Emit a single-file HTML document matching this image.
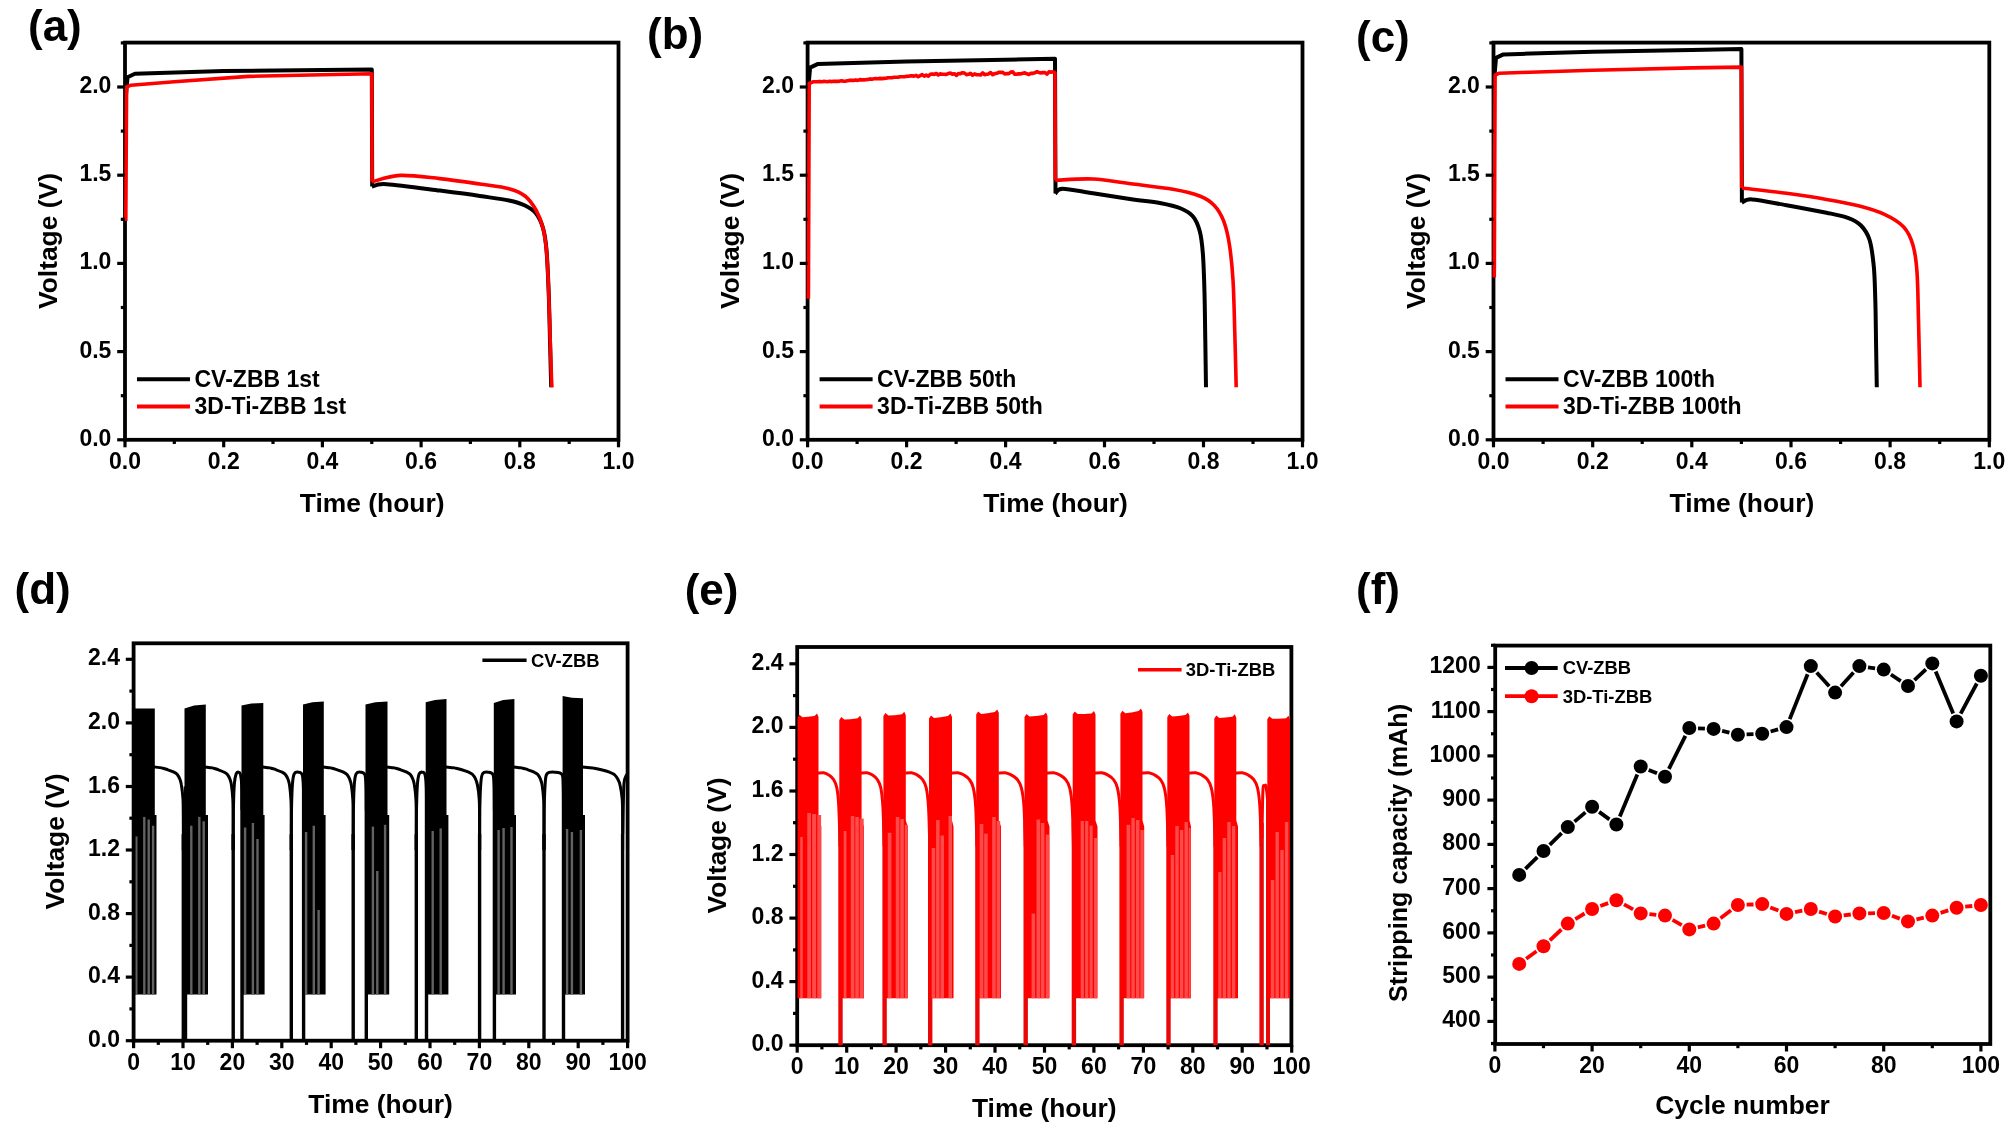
<!DOCTYPE html>
<html><head><meta charset="utf-8"><title>Figure</title>
<style>html,body{margin:0;padding:0;background:#fff;}svg{display:block;filter:blur(0.5px);}text{fill:#000;}</style>
</head><body>
<svg width="2013" height="1127" viewBox="0 0 2013 1127">
<rect width="2013" height="1127" fill="#fff"/>
<rect x="125" y="42.6" width="493.5" height="397.2" fill="none" stroke="#000" stroke-width="3.8"/>
<polyline points="126,94.9 127.5,77.3 134.9,73.8 223.7,71.1 322.4,69.9 371.8,69.4 372.2,186.6" fill="none" stroke="#000" stroke-width="4" stroke-linejoin="round" stroke-linecap="butt" />
<path d="M372,186.6 C374.4,186.2 375.3,183.5 386.6,184.2 C397.9,184.9 424.3,188.6 439.8,190.6 C455.3,192.6 468.3,194.3 479.8,196 C491.3,197.7 501.5,198.9 509,200.5 C516.5,202.1 520.5,203.4 525,205.5 C529.5,207.6 532.7,209.2 535.7,213 C538.7,216.8 541.2,221.8 543,228 C544.8,234.2 545.6,239.7 546.5,250 C547.4,260.3 548,275 548.6,290 C549.2,305 549.6,323.8 550,340 C550.4,356.2 551,379.3 551.2,387.2" fill="none" stroke="#000" stroke-width="4" stroke-linejoin="round"/>
<polyline points="125.8,221.1 126.6,87 130.9,85.2 174.3,81.7 248.4,76.4 322.4,74.7 371.8,73.8 372.1,181.8" fill="none" stroke="#f00" stroke-width="3.6" stroke-linejoin="round" stroke-linecap="butt" />
<path d="M372,181.8 C376.7,180.7 388.7,175.9 400,175.4 C411.3,174.9 426.5,177.2 439.8,178.6 C453.1,180 468.3,182.3 479.8,184 C491.3,185.7 501.5,186.7 509,188.7 C516.5,190.7 520.5,192.4 525,196 C529.5,199.6 533,204.7 536,210 C539,215.3 541.2,221 543,228 C544.8,235 545.7,241.7 546.6,252 C547.5,262.3 548,275.3 548.6,290 C549.2,304.7 549.7,323.8 550.2,340 C550.7,356.2 551.5,379.3 551.8,387.2" fill="none" stroke="#f00" stroke-width="3.6" stroke-linejoin="round"/>
<line x1="125" y1="439.8" x2="125" y2="447.3" stroke="#000" stroke-width="3.2"/>
<line x1="223.7" y1="439.8" x2="223.7" y2="447.3" stroke="#000" stroke-width="3.2"/>
<line x1="322.4" y1="439.8" x2="322.4" y2="447.3" stroke="#000" stroke-width="3.2"/>
<line x1="421.1" y1="439.8" x2="421.1" y2="447.3" stroke="#000" stroke-width="3.2"/>
<line x1="519.8" y1="439.8" x2="519.8" y2="447.3" stroke="#000" stroke-width="3.2"/>
<line x1="618.5" y1="439.8" x2="618.5" y2="447.3" stroke="#000" stroke-width="3.2"/>
<line x1="174.3" y1="439.8" x2="174.3" y2="444" stroke="#000" stroke-width="3.2"/>
<line x1="273" y1="439.8" x2="273" y2="444" stroke="#000" stroke-width="3.2"/>
<line x1="371.8" y1="439.8" x2="371.8" y2="444" stroke="#000" stroke-width="3.2"/>
<line x1="470.4" y1="439.8" x2="470.4" y2="444" stroke="#000" stroke-width="3.2"/>
<line x1="569.2" y1="439.8" x2="569.2" y2="444" stroke="#000" stroke-width="3.2"/>
<text x="125" y="469" font-size="23" text-anchor="middle" font-family="Liberation Sans, Arial, sans-serif" font-weight="bold">0.0</text>
<text x="223.7" y="469" font-size="23" text-anchor="middle" font-family="Liberation Sans, Arial, sans-serif" font-weight="bold">0.2</text>
<text x="322.4" y="469" font-size="23" text-anchor="middle" font-family="Liberation Sans, Arial, sans-serif" font-weight="bold">0.4</text>
<text x="421.1" y="469" font-size="23" text-anchor="middle" font-family="Liberation Sans, Arial, sans-serif" font-weight="bold">0.6</text>
<text x="519.8" y="469" font-size="23" text-anchor="middle" font-family="Liberation Sans, Arial, sans-serif" font-weight="bold">0.8</text>
<text x="618.5" y="469" font-size="23" text-anchor="middle" font-family="Liberation Sans, Arial, sans-serif" font-weight="bold">1.0</text>
<line x1="125" y1="439.8" x2="117.2" y2="439.8" stroke="#000" stroke-width="3.2"/>
<line x1="125" y1="351.6" x2="117.2" y2="351.6" stroke="#000" stroke-width="3.2"/>
<line x1="125" y1="263.4" x2="117.2" y2="263.4" stroke="#000" stroke-width="3.2"/>
<line x1="125" y1="175.2" x2="117.2" y2="175.2" stroke="#000" stroke-width="3.2"/>
<line x1="125" y1="87" x2="117.2" y2="87" stroke="#000" stroke-width="3.2"/>
<line x1="125" y1="395.7" x2="120.8" y2="395.7" stroke="#000" stroke-width="3.2"/>
<line x1="125" y1="307.5" x2="120.8" y2="307.5" stroke="#000" stroke-width="3.2"/>
<line x1="125" y1="219.3" x2="120.8" y2="219.3" stroke="#000" stroke-width="3.2"/>
<line x1="125" y1="131.1" x2="120.8" y2="131.1" stroke="#000" stroke-width="3.2"/>
<line x1="125" y1="42.9" x2="120.8" y2="42.9" stroke="#000" stroke-width="3.2"/>
<text x="111.4" y="445.8" font-size="23" text-anchor="end" font-family="Liberation Sans, Arial, sans-serif" font-weight="bold">0.0</text>
<text x="111.4" y="357.6" font-size="23" text-anchor="end" font-family="Liberation Sans, Arial, sans-serif" font-weight="bold">0.5</text>
<text x="111.4" y="269.4" font-size="23" text-anchor="end" font-family="Liberation Sans, Arial, sans-serif" font-weight="bold">1.0</text>
<text x="111.4" y="181.2" font-size="23" text-anchor="end" font-family="Liberation Sans, Arial, sans-serif" font-weight="bold">1.5</text>
<text x="111.4" y="93" font-size="23" text-anchor="end" font-family="Liberation Sans, Arial, sans-serif" font-weight="bold">2.0</text>
<text transform="translate(56.5,241) rotate(-90)" font-size="26.4" text-anchor="middle" font-family="Liberation Sans, Arial, sans-serif" font-weight="bold">Voltage (V)</text>
<text x="372.2" y="511.5" font-size="26.4" text-anchor="middle" font-family="Liberation Sans, Arial, sans-serif" font-weight="bold">Time (hour)</text>
<text x="28" y="40.5" font-size="44" font-family="Liberation Sans, Arial, sans-serif" font-weight="bold">(a)</text>
<line x1="137" y1="379.3" x2="190" y2="379.3" stroke="#000" stroke-width="4"/>
<line x1="137" y1="406.6" x2="190" y2="406.6" stroke="#f00" stroke-width="4"/>
<text x="194.5" y="386.8" font-size="23" font-family="Liberation Sans, Arial, sans-serif" font-weight="bold">CV-ZBB 1st</text>
<text x="194.5" y="414.2" font-size="23" font-family="Liberation Sans, Arial, sans-serif" font-weight="bold">3D-Ti-ZBB 1st</text>
<rect x="807.6" y="42.6" width="494.9" height="397.2" fill="none" stroke="#000" stroke-width="3.8"/>
<polyline points="808.6,85.2 810.1,67.6 817.5,64.1 906.6,61.4 1005.6,59.7 1055,58.8 1055.5,193.5" fill="none" stroke="#000" stroke-width="4" stroke-linejoin="round" stroke-linecap="butt" />
<path d="M1055.3,193.5 C1056.5,192.7 1056.3,188.7 1062.6,188.7 C1068.9,188.7 1081.3,191.5 1093,193.3 C1104.7,195.1 1121.9,197.8 1133,199.4 C1144.1,201 1151.8,201.5 1159.8,203 C1167.8,204.5 1175.5,206.2 1181,208.5 C1186.5,210.8 1189.9,212.8 1193,216.5 C1196.1,220.2 1198,224.8 1199.7,231 C1201.4,237.2 1202.1,243.7 1202.9,254 C1203.7,264.3 1204.1,278.7 1204.5,293 C1204.9,307.3 1205,324.3 1205.3,340 C1205.5,355.7 1205.9,379.3 1206,387.2" fill="none" stroke="#000" stroke-width="4" stroke-linejoin="round"/>
<polyline points="808.4,298.7 809.2,83.5 813.5,81.7 815.6,81.8 817.6,81.8 819.6,81.4 821.6,81.8 823.6,81.4 825.6,81.5 827.6,81.7 829.6,81.3 831.7,81.6 833.7,81.2 835.7,81.4 837.7,81.4 839.7,81.1 841.7,80.7 843.7,81.2 845.7,81.1 847.8,80.7 849.8,80.3 851.8,80.4 853.8,80.4 855.8,79.9 857.8,80.4 859.8,79.6 861.8,79.9 863.9,79.9 865.9,79.7 867.9,79.4 869.9,78.9 871.9,79.2 873.9,78.8 875.9,78.6 877.9,78.7 880,78.4 882,78.6 884,78.4 886,78.2 888,77.7 890,77.7 892,77.7 894,77.3 896.1,77.3 898.1,77.2 900.1,76.7 902.1,76.7 904.1,76.8 906.1,76.4 908.1,76.3 910.1,75.9 912.2,75.9 914.2,76.1 916.2,75.4 918.2,76.7 920.2,75.7 922.2,74.6 924.2,76.2 926.2,75.1 928.3,76.2 930.3,74.3 932.3,73.9 934.3,74.4 936.3,73.5 938.3,75 940.3,73.9 942.3,74.2 944.4,74.2 946.4,74.5 948.4,73.4 950.4,73 952.4,74.3 954.4,73.7 956.4,75.4 958.4,73.6 960.5,73.7 962.5,72.7 964.5,73.1 966.5,74.6 968.5,74.3 970.5,73.4 972.5,75.2 974.5,73.9 976.6,74.7 978.6,74.8 980.6,75 982.6,72.9 984.6,74.7 986.6,74.3 988.6,73.9 990.6,72.5 992.7,74.7 994.7,73.6 996.7,73.3 998.7,72.3 1000.7,72.4 1002.7,72.3 1004.7,73.9 1006.7,73.5 1008.8,73.6 1010.8,72.1 1012.8,71.9 1014.8,74.2 1016.8,74.1 1018.8,73.9 1020.8,73.9 1022.8,73.2 1024.9,72.9 1026.9,73.8 1028.9,74.5 1030.9,73.3 1032.9,73.4 1034.9,72.8 1036.9,71.7 1038.9,72.5 1041,72.9 1043,72.6 1045,72.5 1047,74.2 1049,71.8 1051,72.1 1053,71.8 1055,72.9 1055.3,180.3" fill="none" stroke="#f00" stroke-width="3.6" stroke-linejoin="round" stroke-linecap="butt" />
<path d="M1055.3,180.3 C1061.6,180.1 1080,178.4 1093,179 C1106,179.6 1119.7,182.3 1133,184 C1146.3,185.7 1161.9,187.3 1173,189.3 C1184.1,191.3 1192.8,193.3 1199.7,196 C1206.6,198.7 1210.3,201.3 1214.3,205.5 C1218.3,209.7 1221.2,214.6 1223.7,221.2 C1226.2,227.8 1228,235.4 1229.5,245.2 C1231,255 1232.1,265.4 1233,280 C1233.9,294.6 1234.3,315.1 1234.8,333 C1235.3,350.9 1236,378.2 1236.2,387.2" fill="none" stroke="#f00" stroke-width="3.6" stroke-linejoin="round"/>
<line x1="807.6" y1="439.8" x2="807.6" y2="447.3" stroke="#000" stroke-width="3.2"/>
<line x1="906.6" y1="439.8" x2="906.6" y2="447.3" stroke="#000" stroke-width="3.2"/>
<line x1="1005.6" y1="439.8" x2="1005.6" y2="447.3" stroke="#000" stroke-width="3.2"/>
<line x1="1104.5" y1="439.8" x2="1104.5" y2="447.3" stroke="#000" stroke-width="3.2"/>
<line x1="1203.5" y1="439.8" x2="1203.5" y2="447.3" stroke="#000" stroke-width="3.2"/>
<line x1="1302.5" y1="439.8" x2="1302.5" y2="447.3" stroke="#000" stroke-width="3.2"/>
<line x1="857.1" y1="439.8" x2="857.1" y2="444" stroke="#000" stroke-width="3.2"/>
<line x1="956.1" y1="439.8" x2="956.1" y2="444" stroke="#000" stroke-width="3.2"/>
<line x1="1055" y1="439.8" x2="1055" y2="444" stroke="#000" stroke-width="3.2"/>
<line x1="1154" y1="439.8" x2="1154" y2="444" stroke="#000" stroke-width="3.2"/>
<line x1="1253" y1="439.8" x2="1253" y2="444" stroke="#000" stroke-width="3.2"/>
<text x="807.6" y="469" font-size="23" text-anchor="middle" font-family="Liberation Sans, Arial, sans-serif" font-weight="bold">0.0</text>
<text x="906.6" y="469" font-size="23" text-anchor="middle" font-family="Liberation Sans, Arial, sans-serif" font-weight="bold">0.2</text>
<text x="1005.6" y="469" font-size="23" text-anchor="middle" font-family="Liberation Sans, Arial, sans-serif" font-weight="bold">0.4</text>
<text x="1104.5" y="469" font-size="23" text-anchor="middle" font-family="Liberation Sans, Arial, sans-serif" font-weight="bold">0.6</text>
<text x="1203.5" y="469" font-size="23" text-anchor="middle" font-family="Liberation Sans, Arial, sans-serif" font-weight="bold">0.8</text>
<text x="1302.5" y="469" font-size="23" text-anchor="middle" font-family="Liberation Sans, Arial, sans-serif" font-weight="bold">1.0</text>
<line x1="807.6" y1="439.8" x2="799.8" y2="439.8" stroke="#000" stroke-width="3.2"/>
<line x1="807.6" y1="351.6" x2="799.8" y2="351.6" stroke="#000" stroke-width="3.2"/>
<line x1="807.6" y1="263.4" x2="799.8" y2="263.4" stroke="#000" stroke-width="3.2"/>
<line x1="807.6" y1="175.2" x2="799.8" y2="175.2" stroke="#000" stroke-width="3.2"/>
<line x1="807.6" y1="87" x2="799.8" y2="87" stroke="#000" stroke-width="3.2"/>
<line x1="807.6" y1="395.7" x2="803.4" y2="395.7" stroke="#000" stroke-width="3.2"/>
<line x1="807.6" y1="307.5" x2="803.4" y2="307.5" stroke="#000" stroke-width="3.2"/>
<line x1="807.6" y1="219.3" x2="803.4" y2="219.3" stroke="#000" stroke-width="3.2"/>
<line x1="807.6" y1="131.1" x2="803.4" y2="131.1" stroke="#000" stroke-width="3.2"/>
<line x1="807.6" y1="42.9" x2="803.4" y2="42.9" stroke="#000" stroke-width="3.2"/>
<text x="794" y="445.8" font-size="23" text-anchor="end" font-family="Liberation Sans, Arial, sans-serif" font-weight="bold">0.0</text>
<text x="794" y="357.6" font-size="23" text-anchor="end" font-family="Liberation Sans, Arial, sans-serif" font-weight="bold">0.5</text>
<text x="794" y="269.4" font-size="23" text-anchor="end" font-family="Liberation Sans, Arial, sans-serif" font-weight="bold">1.0</text>
<text x="794" y="181.2" font-size="23" text-anchor="end" font-family="Liberation Sans, Arial, sans-serif" font-weight="bold">1.5</text>
<text x="794" y="93" font-size="23" text-anchor="end" font-family="Liberation Sans, Arial, sans-serif" font-weight="bold">2.0</text>
<text transform="translate(739.1,241) rotate(-90)" font-size="26.4" text-anchor="middle" font-family="Liberation Sans, Arial, sans-serif" font-weight="bold">Voltage (V)</text>
<text x="1055.5" y="511.5" font-size="26.4" text-anchor="middle" font-family="Liberation Sans, Arial, sans-serif" font-weight="bold">Time (hour)</text>
<text x="647" y="48.7" font-size="44" font-family="Liberation Sans, Arial, sans-serif" font-weight="bold">(b)</text>
<line x1="819.6" y1="379.3" x2="872.6" y2="379.3" stroke="#000" stroke-width="4"/>
<line x1="819.6" y1="406.6" x2="872.6" y2="406.6" stroke="#f00" stroke-width="4"/>
<text x="877.1" y="386.8" font-size="23" font-family="Liberation Sans, Arial, sans-serif" font-weight="bold">CV-ZBB 50th</text>
<text x="877.1" y="414.2" font-size="23" font-family="Liberation Sans, Arial, sans-serif" font-weight="bold">3D-Ti-ZBB 50th</text>
<rect x="1493.5" y="42.6" width="495.8" height="397.2" fill="none" stroke="#000" stroke-width="3.8"/>
<polyline points="1494.5,75.5 1496,57.9 1503.4,54.4 1592.7,51.7 1691.8,50 1741.4,49.1 1741.9,202.6" fill="none" stroke="#000" stroke-width="4" stroke-linejoin="round" stroke-linecap="butt" />
<path d="M1742,202.6 C1743.7,202.1 1744.6,199 1752,199.4 C1759.4,199.8 1774.1,203 1786.5,205.2 C1798.9,207.4 1816.3,210.6 1826.5,212.7 C1836.7,214.8 1842,215.7 1847.8,217.8 C1853.5,219.9 1857.4,221.8 1861,225.5 C1864.6,229.2 1867.5,233.2 1869.6,240 C1871.7,246.8 1872.8,256.5 1873.8,266.5 C1874.8,276.5 1874.9,287.8 1875.3,300 C1875.7,312.2 1875.8,325.5 1876,340 C1876.2,354.5 1876.7,379.3 1876.8,387.2" fill="none" stroke="#000" stroke-width="4" stroke-linejoin="round"/>
<polyline points="1494.3,277.5 1495.1,75 1499.4,73.2 1592.7,70.2 1691.8,67.9 1741.4,67.1 1741.7,188" fill="none" stroke="#f00" stroke-width="3.6" stroke-linejoin="round" stroke-linecap="butt" />
<path d="M1742,188 C1749.4,188.9 1772.4,191.4 1786.5,193.3 C1800.6,195.2 1814.5,197.3 1826.5,199.4 C1838.5,201.5 1848.7,203.3 1858.4,205.8 C1868.2,208.3 1877.5,211.1 1885,214.6 C1892.5,218.1 1899,221.9 1903.7,227 C1908.4,232.1 1910.8,237.7 1913,245.2 C1915.2,252.7 1916.1,259.5 1917,272 C1917.9,284.5 1918,300.8 1918.5,320 C1919,339.2 1919.8,376 1920,387.2" fill="none" stroke="#f00" stroke-width="3.6" stroke-linejoin="round"/>
<line x1="1493.5" y1="439.8" x2="1493.5" y2="447.3" stroke="#000" stroke-width="3.2"/>
<line x1="1592.7" y1="439.8" x2="1592.7" y2="447.3" stroke="#000" stroke-width="3.2"/>
<line x1="1691.8" y1="439.8" x2="1691.8" y2="447.3" stroke="#000" stroke-width="3.2"/>
<line x1="1791" y1="439.8" x2="1791" y2="447.3" stroke="#000" stroke-width="3.2"/>
<line x1="1890.1" y1="439.8" x2="1890.1" y2="447.3" stroke="#000" stroke-width="3.2"/>
<line x1="1989.3" y1="439.8" x2="1989.3" y2="447.3" stroke="#000" stroke-width="3.2"/>
<line x1="1543.1" y1="439.8" x2="1543.1" y2="444" stroke="#000" stroke-width="3.2"/>
<line x1="1642.2" y1="439.8" x2="1642.2" y2="444" stroke="#000" stroke-width="3.2"/>
<line x1="1741.4" y1="439.8" x2="1741.4" y2="444" stroke="#000" stroke-width="3.2"/>
<line x1="1840.6" y1="439.8" x2="1840.6" y2="444" stroke="#000" stroke-width="3.2"/>
<line x1="1939.7" y1="439.8" x2="1939.7" y2="444" stroke="#000" stroke-width="3.2"/>
<text x="1493.5" y="469" font-size="23" text-anchor="middle" font-family="Liberation Sans, Arial, sans-serif" font-weight="bold">0.0</text>
<text x="1592.7" y="469" font-size="23" text-anchor="middle" font-family="Liberation Sans, Arial, sans-serif" font-weight="bold">0.2</text>
<text x="1691.8" y="469" font-size="23" text-anchor="middle" font-family="Liberation Sans, Arial, sans-serif" font-weight="bold">0.4</text>
<text x="1791" y="469" font-size="23" text-anchor="middle" font-family="Liberation Sans, Arial, sans-serif" font-weight="bold">0.6</text>
<text x="1890.1" y="469" font-size="23" text-anchor="middle" font-family="Liberation Sans, Arial, sans-serif" font-weight="bold">0.8</text>
<text x="1989.3" y="469" font-size="23" text-anchor="middle" font-family="Liberation Sans, Arial, sans-serif" font-weight="bold">1.0</text>
<line x1="1493.5" y1="439.8" x2="1485.7" y2="439.8" stroke="#000" stroke-width="3.2"/>
<line x1="1493.5" y1="351.6" x2="1485.7" y2="351.6" stroke="#000" stroke-width="3.2"/>
<line x1="1493.5" y1="263.4" x2="1485.7" y2="263.4" stroke="#000" stroke-width="3.2"/>
<line x1="1493.5" y1="175.2" x2="1485.7" y2="175.2" stroke="#000" stroke-width="3.2"/>
<line x1="1493.5" y1="87" x2="1485.7" y2="87" stroke="#000" stroke-width="3.2"/>
<line x1="1493.5" y1="395.7" x2="1489.3" y2="395.7" stroke="#000" stroke-width="3.2"/>
<line x1="1493.5" y1="307.5" x2="1489.3" y2="307.5" stroke="#000" stroke-width="3.2"/>
<line x1="1493.5" y1="219.3" x2="1489.3" y2="219.3" stroke="#000" stroke-width="3.2"/>
<line x1="1493.5" y1="131.1" x2="1489.3" y2="131.1" stroke="#000" stroke-width="3.2"/>
<line x1="1493.5" y1="42.9" x2="1489.3" y2="42.9" stroke="#000" stroke-width="3.2"/>
<text x="1479.9" y="445.8" font-size="23" text-anchor="end" font-family="Liberation Sans, Arial, sans-serif" font-weight="bold">0.0</text>
<text x="1479.9" y="357.6" font-size="23" text-anchor="end" font-family="Liberation Sans, Arial, sans-serif" font-weight="bold">0.5</text>
<text x="1479.9" y="269.4" font-size="23" text-anchor="end" font-family="Liberation Sans, Arial, sans-serif" font-weight="bold">1.0</text>
<text x="1479.9" y="181.2" font-size="23" text-anchor="end" font-family="Liberation Sans, Arial, sans-serif" font-weight="bold">1.5</text>
<text x="1479.9" y="93" font-size="23" text-anchor="end" font-family="Liberation Sans, Arial, sans-serif" font-weight="bold">2.0</text>
<text transform="translate(1425,241) rotate(-90)" font-size="26.4" text-anchor="middle" font-family="Liberation Sans, Arial, sans-serif" font-weight="bold">Voltage (V)</text>
<text x="1741.9" y="511.5" font-size="26.4" text-anchor="middle" font-family="Liberation Sans, Arial, sans-serif" font-weight="bold">Time (hour)</text>
<text x="1356" y="52.2" font-size="44" font-family="Liberation Sans, Arial, sans-serif" font-weight="bold">(c)</text>
<line x1="1505.5" y1="379.3" x2="1558.5" y2="379.3" stroke="#000" stroke-width="4"/>
<line x1="1505.5" y1="406.6" x2="1558.5" y2="406.6" stroke="#f00" stroke-width="4"/>
<text x="1563" y="386.8" font-size="23" font-family="Liberation Sans, Arial, sans-serif" font-weight="bold">CV-ZBB 100th</text>
<text x="1563" y="414.2" font-size="23" font-family="Liberation Sans, Arial, sans-serif" font-weight="bold">3D-Ti-ZBB 100th</text>
<polygon points="133.4,708.6 143,708.6 154.8,708.6 154.8,815.1 156.5,815.1 156.5,994.6 133.4,994.6" fill="#000"/>
<rect x="135.1" y="836.4" width="2.4" height="158.2" fill="#626262"/>
<rect x="143.1" y="816.9" width="2.4" height="177.7" fill="#626262"/>
<rect x="147.5" y="819.5" width="2.4" height="175.1" fill="#626262"/>
<rect x="151.9" y="825.7" width="2.4" height="168.9" fill="#626262"/>
<path d="M153.8,766.9 C155.2,767.1 159.6,767.4 161.9,767.9 C164.3,768.3 165.9,769.1 167.9,769.8 C169.9,770.5 172.3,771.4 173.9,772.2 C175.5,773 176.3,773.4 177.3,774.5 C178.3,775.7 179,777.1 179.7,778.8 C180.4,780.6 180.9,781.5 181.4,784.9 C182,788.3 182.6,793.6 183,799.2 C183.3,804.7 183.2,809.8 183.3,818.2 C183.4,826.7 183.3,844.7 183.3,850" fill="none" stroke="#000" stroke-width="3" stroke-linejoin="round"/>
<line x1="183.3" y1="834.1" x2="183.3" y2="1040.7" stroke="#000" stroke-width="3.4"/>
<line x1="185.5" y1="786.5" x2="185.5" y2="1040.7" stroke="#000" stroke-width="3.4"/>
<polygon points="184.5,708.6 194.1,705.6 205.8,704.6 205.8,815.1 208,815.1 208,994.6 184.5,994.6" fill="#000"/>
<rect x="190.1" y="825.7" width="2.4" height="168.9" fill="#626262"/>
<rect x="198.1" y="816.9" width="2.4" height="177.7" fill="#626262"/>
<rect x="202.5" y="821.3" width="2.4" height="173.3" fill="#626262"/>
<path d="M204.8,766.9 C206.1,767.1 210.4,767.4 212.7,767.9 C214.9,768.3 216.5,769.1 218.4,769.8 C220.3,770.5 222.7,771.4 224.2,772.2 C225.7,773 226.5,773.4 227.4,774.5 C228.4,775.7 229.1,777.1 229.8,778.8 C230.4,780.6 230.9,781.5 231.4,784.9 C231.9,788.3 232.6,793.6 232.8,799.2 C233.1,804.7 233.1,809.8 233.2,818.2 C233.3,826.7 233.2,844.7 233.2,850" fill="none" stroke="#000" stroke-width="3" stroke-linejoin="round"/>
<line x1="233.2" y1="834.1" x2="233.2" y2="1040.7" stroke="#000" stroke-width="3.4"/>
<path d="M233.2,850 C233.2,843.4 233.2,821.4 233.4,810.3 C233.6,799.2 233.9,789.4 234.4,783.3 C234.9,777.2 235.5,775.6 236.2,773.7 C236.9,771.9 237.9,772 238.6,772.2 C239.3,772.3 240,772.2 240.5,774.5 C241,776.9 241.6,780.5 241.8,786.5 C242.1,792.4 242,806.3 242,810.3" fill="none" stroke="#000" stroke-width="3" stroke-linejoin="round"/>
<line x1="242" y1="778.5" x2="242" y2="1040.7" stroke="#000" stroke-width="3.4"/>
<polygon points="241.5,705.4 251.3,703.6 263.3,703 263.3,815.1 264.6,815.1 264.6,994.6 241.5,994.6" fill="#000"/>
<rect x="243.9" y="827.5" width="2.4" height="167.1" fill="#626262"/>
<rect x="251.7" y="823" width="2.4" height="171.6" fill="#626262"/>
<rect x="256.3" y="839" width="2.4" height="155.6" fill="#626262"/>
<path d="M262.3,766.9 C263.6,767.1 268,767.4 270.3,767.9 C272.6,768.3 274.2,769.1 276.2,769.8 C278.1,770.5 280.5,771.4 282.1,772.2 C283.6,773 284.5,773.4 285.4,774.5 C286.4,775.7 287.1,777.1 287.8,778.8 C288.5,780.6 289,781.5 289.5,784.9 C290,788.3 290.6,793.6 290.9,799.2 C291.3,804.7 291.2,809.8 291.3,818.2 C291.4,826.7 291.3,844.7 291.3,850" fill="none" stroke="#000" stroke-width="3" stroke-linejoin="round"/>
<line x1="291.3" y1="834.1" x2="291.3" y2="1040.7" stroke="#000" stroke-width="3.4"/>
<path d="M291.3,850 C291.3,843.4 291.3,821.4 291.5,810.3 C291.7,799.2 292,789.4 292.5,783.3 C293,777.2 293.3,775.6 294.3,773.7 C295.3,771.9 297.2,772 298.5,772.2 C299.8,772.3 301.3,772.2 302.1,774.5 C302.9,776.9 303.2,780.5 303.4,786.5 C303.7,792.4 303.6,806.3 303.6,810.3" fill="none" stroke="#000" stroke-width="3" stroke-linejoin="round"/>
<line x1="303.6" y1="778.5" x2="303.6" y2="1040.7" stroke="#000" stroke-width="3.4"/>
<polygon points="303,704.6 312.4,702.2 323.8,701.4 323.8,815.1 325.6,815.1 325.6,994.6 303,994.6" fill="#000"/>
<rect x="304.9" y="832" width="2.4" height="162.6" fill="#626262"/>
<rect x="312.6" y="825.7" width="2.4" height="168.9" fill="#626262"/>
<rect x="317.4" y="910" width="2.4" height="84.6" fill="#626262"/>
<path d="M322.8,766.9 C324.2,767.1 328.7,767.4 331.1,767.9 C333.6,768.3 335.3,769.1 337.3,769.8 C339.4,770.5 341.9,771.4 343.5,772.2 C345.1,773 346,773.4 347,774.5 C348,775.7 348.8,777.1 349.5,778.8 C350.2,780.6 350.7,781.5 351.3,784.9 C351.8,788.3 352.5,793.6 352.8,799.2 C353.2,804.7 353.1,809.8 353.2,818.2 C353.3,826.7 353.2,844.7 353.2,850" fill="none" stroke="#000" stroke-width="3" stroke-linejoin="round"/>
<line x1="353.2" y1="834.1" x2="353.2" y2="1040.7" stroke="#000" stroke-width="3.4"/>
<path d="M353.2,850 C353.2,843.4 353.2,821.4 353.4,810.3 C353.6,799.2 353.9,789.4 354.4,783.3 C354.9,777.2 355.1,775.6 356.2,773.7 C357.3,771.9 359.3,772 360.8,772.2 C362.2,772.3 363.9,772.2 364.8,774.5 C365.7,776.9 365.9,780.5 366.1,786.5 C366.4,792.4 366.3,806.3 366.3,810.3" fill="none" stroke="#000" stroke-width="3" stroke-linejoin="round"/>
<line x1="366.3" y1="778.5" x2="366.3" y2="1040.7" stroke="#000" stroke-width="3.4"/>
<polygon points="365.5,704.6 375.4,702.2 387.5,701.4 387.5,815.1 389.2,815.1 389.2,994.6 365.5,994.6" fill="#000"/>
<rect x="371.7" y="826.6" width="2.4" height="168" fill="#626262"/>
<rect x="376.1" y="871" width="2.4" height="123.6" fill="#626262"/>
<rect x="383.9" y="824.8" width="2.4" height="169.8" fill="#626262"/>
<path d="M386.5,766.9 C387.9,767.1 392.3,767.4 394.7,767.9 C397.1,768.3 398.7,769.1 400.7,769.8 C402.8,770.5 405.2,771.4 406.8,772.2 C408.4,773 409.3,773.4 410.3,774.5 C411.2,775.7 412,777.1 412.7,778.8 C413.4,780.6 413.9,781.5 414.4,784.9 C415,788.3 415.6,793.6 415.9,799.2 C416.3,804.7 416.2,809.8 416.3,818.2 C416.4,826.7 416.3,844.7 416.3,850" fill="none" stroke="#000" stroke-width="3" stroke-linejoin="round"/>
<line x1="416.3" y1="834.1" x2="416.3" y2="1040.7" stroke="#000" stroke-width="3.4"/>
<path d="M416.3,850 C416.3,843.4 416.3,821.4 416.5,810.3 C416.7,799.2 417,789.4 417.5,783.3 C418,777.2 418.5,775.6 419.3,773.7 C420.1,771.9 421.4,772 422.4,772.2 C423.3,772.3 424.4,772.2 425,774.5 C425.6,776.9 426.1,780.5 426.3,786.5 C426.6,792.4 426.5,806.3 426.5,810.3" fill="none" stroke="#000" stroke-width="3" stroke-linejoin="round"/>
<line x1="426.5" y1="778.5" x2="426.5" y2="1040.7" stroke="#000" stroke-width="3.4"/>
<polygon points="425.7,702.2 435.1,699.9 446.5,699.1 446.5,815.1 448.4,815.1 448.4,994.6 425.7,994.6" fill="#000"/>
<rect x="431.5" y="831" width="2.4" height="163.6" fill="#626262"/>
<rect x="439.5" y="828.4" width="2.4" height="166.2" fill="#626262"/>
<path d="M445.5,766.9 C447,767.1 452.1,767.4 454.8,767.9 C457.5,768.3 459.4,769.1 461.7,769.8 C464,770.5 466.9,771.4 468.7,772.2 C470.5,773 471.5,773.4 472.6,774.5 C473.8,775.7 474.7,777.1 475.5,778.8 C476.3,780.6 476.8,781.5 477.4,784.9 C478.1,788.3 478.9,793.6 479.2,799.2 C479.6,804.7 479.5,809.8 479.6,818.2 C479.7,826.7 479.6,844.7 479.6,850" fill="none" stroke="#000" stroke-width="3" stroke-linejoin="round"/>
<line x1="479.6" y1="834.1" x2="479.6" y2="1040.7" stroke="#000" stroke-width="3.4"/>
<path d="M479.6,850 C479.6,843.4 479.6,821.4 479.8,810.3 C480,799.2 480.3,789.4 480.8,783.3 C481.3,777.2 481.4,775.6 482.6,773.7 C483.8,771.9 486.3,772 488,772.2 C489.7,772.3 491.9,772.2 492.9,774.5 C493.9,776.9 493.9,780.5 494.2,786.5 C494.4,792.4 494.4,806.3 494.4,810.3" fill="none" stroke="#000" stroke-width="3" stroke-linejoin="round"/>
<line x1="494.4" y1="778.5" x2="494.4" y2="1040.7" stroke="#000" stroke-width="3.4"/>
<polygon points="493.8,703 503.1,700.1 514.4,699.1 514.4,815.1 516,815.1 516,994.6 493.8,994.6" fill="#000"/>
<rect x="497.4" y="830" width="2.4" height="164.6" fill="#626262"/>
<rect x="502.4" y="828" width="2.4" height="166.6" fill="#626262"/>
<rect x="510.3" y="827" width="2.4" height="167.6" fill="#626262"/>
<path d="M513.4,766.9 C514.8,767.1 519.4,767.4 521.8,767.9 C524.2,768.3 525.9,769.1 528,769.8 C530.1,770.5 532.6,771.4 534.2,772.2 C535.9,773 536.8,773.4 537.8,774.5 C538.8,775.7 539.6,777.1 540.3,778.8 C541,780.6 541.5,781.5 542.1,784.9 C542.6,788.3 543.3,793.6 543.6,799.2 C544,804.7 543.9,809.8 544,818.2 C544.1,826.7 544,844.7 544,850" fill="none" stroke="#000" stroke-width="3" stroke-linejoin="round"/>
<line x1="544" y1="834.1" x2="544" y2="1040.7" stroke="#000" stroke-width="3.4"/>
<path d="M544,850 C544,843.4 544,821.4 544.2,810.3 C544.4,799.2 544.7,789.4 545.2,783.3 C545.7,777.2 545.4,775.6 547,773.7 C548.6,771.9 552.2,772 554.8,772.2 C557.2,772.3 560.6,772.2 562,774.5 C563.4,776.9 563,780.5 563.3,786.5 C563.5,792.4 563.5,806.3 563.5,810.3" fill="none" stroke="#000" stroke-width="3" stroke-linejoin="round"/>
<line x1="563.5" y1="778.5" x2="563.5" y2="1040.7" stroke="#000" stroke-width="3.4"/>
<polygon points="562.6,695.9 571.8,697.7 583,698.3 583,815.1 585,815.1 585,994.6 562.6,994.6" fill="#000"/>
<rect x="565.9" y="829" width="2.4" height="165.6" fill="#626262"/>
<rect x="570.7" y="832" width="2.4" height="162.6" fill="#626262"/>
<rect x="579.7" y="830" width="2.4" height="164.6" fill="#626262"/>
<path d="M582,766.9 C583.8,767.1 589.7,767.4 592.9,767.9 C596.1,768.3 598.4,769.1 601.2,769.8 C604,770.5 607.4,771.4 609.5,772.2 C611.7,773 612.9,773.4 614.3,774.5 C615.6,775.7 616.7,777.1 617.6,778.8 C618.6,780.6 619.3,781.5 620,784.9 C620.8,788.3 621.8,793.6 622.2,799.2 C622.7,804.7 622.5,809.8 622.6,818.2 C622.7,826.7 622.6,844.7 622.6,850" fill="none" stroke="#000" stroke-width="3" stroke-linejoin="round"/>
<line x1="622.6" y1="834.1" x2="622.6" y2="1040.7" stroke="#000" stroke-width="3.4"/>
<path d="M622.9,834.1 C623,826.2 623.4,796 623.8,786.5 C624.3,776.9 625,779 625.6,776.9 C626.2,774.8 627.3,774.3 627.6,773.7" fill="none" stroke="#000" stroke-width="3" stroke-linejoin="round"/>
<rect x="133.6" y="643.3" width="494" height="397.4" fill="none" stroke="#000" stroke-width="3.8"/>
<line x1="133.6" y1="1040.7" x2="133.6" y2="1048.2" stroke="#000" stroke-width="3.2"/>
<line x1="183" y1="1040.7" x2="183" y2="1048.2" stroke="#000" stroke-width="3.2"/>
<line x1="232.4" y1="1040.7" x2="232.4" y2="1048.2" stroke="#000" stroke-width="3.2"/>
<line x1="281.8" y1="1040.7" x2="281.8" y2="1048.2" stroke="#000" stroke-width="3.2"/>
<line x1="331.2" y1="1040.7" x2="331.2" y2="1048.2" stroke="#000" stroke-width="3.2"/>
<line x1="380.6" y1="1040.7" x2="380.6" y2="1048.2" stroke="#000" stroke-width="3.2"/>
<line x1="430" y1="1040.7" x2="430" y2="1048.2" stroke="#000" stroke-width="3.2"/>
<line x1="479.4" y1="1040.7" x2="479.4" y2="1048.2" stroke="#000" stroke-width="3.2"/>
<line x1="528.8" y1="1040.7" x2="528.8" y2="1048.2" stroke="#000" stroke-width="3.2"/>
<line x1="578.2" y1="1040.7" x2="578.2" y2="1048.2" stroke="#000" stroke-width="3.2"/>
<line x1="627.6" y1="1040.7" x2="627.6" y2="1048.2" stroke="#000" stroke-width="3.2"/>
<line x1="158.3" y1="1040.7" x2="158.3" y2="1044.9" stroke="#000" stroke-width="3.2"/>
<line x1="207.7" y1="1040.7" x2="207.7" y2="1044.9" stroke="#000" stroke-width="3.2"/>
<line x1="257.1" y1="1040.7" x2="257.1" y2="1044.9" stroke="#000" stroke-width="3.2"/>
<line x1="306.5" y1="1040.7" x2="306.5" y2="1044.9" stroke="#000" stroke-width="3.2"/>
<line x1="355.9" y1="1040.7" x2="355.9" y2="1044.9" stroke="#000" stroke-width="3.2"/>
<line x1="405.3" y1="1040.7" x2="405.3" y2="1044.9" stroke="#000" stroke-width="3.2"/>
<line x1="454.7" y1="1040.7" x2="454.7" y2="1044.9" stroke="#000" stroke-width="3.2"/>
<line x1="504.1" y1="1040.7" x2="504.1" y2="1044.9" stroke="#000" stroke-width="3.2"/>
<line x1="553.5" y1="1040.7" x2="553.5" y2="1044.9" stroke="#000" stroke-width="3.2"/>
<line x1="602.9" y1="1040.7" x2="602.9" y2="1044.9" stroke="#000" stroke-width="3.2"/>
<text x="133.6" y="1069.9" font-size="23" text-anchor="middle" font-family="Liberation Sans, Arial, sans-serif" font-weight="bold">0</text>
<text x="183" y="1069.9" font-size="23" text-anchor="middle" font-family="Liberation Sans, Arial, sans-serif" font-weight="bold">10</text>
<text x="232.4" y="1069.9" font-size="23" text-anchor="middle" font-family="Liberation Sans, Arial, sans-serif" font-weight="bold">20</text>
<text x="281.8" y="1069.9" font-size="23" text-anchor="middle" font-family="Liberation Sans, Arial, sans-serif" font-weight="bold">30</text>
<text x="331.2" y="1069.9" font-size="23" text-anchor="middle" font-family="Liberation Sans, Arial, sans-serif" font-weight="bold">40</text>
<text x="380.6" y="1069.9" font-size="23" text-anchor="middle" font-family="Liberation Sans, Arial, sans-serif" font-weight="bold">50</text>
<text x="430" y="1069.9" font-size="23" text-anchor="middle" font-family="Liberation Sans, Arial, sans-serif" font-weight="bold">60</text>
<text x="479.4" y="1069.9" font-size="23" text-anchor="middle" font-family="Liberation Sans, Arial, sans-serif" font-weight="bold">70</text>
<text x="528.8" y="1069.9" font-size="23" text-anchor="middle" font-family="Liberation Sans, Arial, sans-serif" font-weight="bold">80</text>
<text x="578.2" y="1069.9" font-size="23" text-anchor="middle" font-family="Liberation Sans, Arial, sans-serif" font-weight="bold">90</text>
<text x="627.6" y="1069.9" font-size="23" text-anchor="middle" font-family="Liberation Sans, Arial, sans-serif" font-weight="bold">100</text>
<line x1="133.6" y1="1040.7" x2="125.8" y2="1040.7" stroke="#000" stroke-width="3.2"/>
<line x1="133.6" y1="977.1" x2="125.8" y2="977.1" stroke="#000" stroke-width="3.2"/>
<line x1="133.6" y1="913.6" x2="125.8" y2="913.6" stroke="#000" stroke-width="3.2"/>
<line x1="133.6" y1="850" x2="125.8" y2="850" stroke="#000" stroke-width="3.2"/>
<line x1="133.6" y1="786.5" x2="125.8" y2="786.5" stroke="#000" stroke-width="3.2"/>
<line x1="133.6" y1="722.9" x2="125.8" y2="722.9" stroke="#000" stroke-width="3.2"/>
<line x1="133.6" y1="659.3" x2="125.8" y2="659.3" stroke="#000" stroke-width="3.2"/>
<line x1="133.6" y1="1008.9" x2="129.4" y2="1008.9" stroke="#000" stroke-width="3.2"/>
<line x1="133.6" y1="945.4" x2="129.4" y2="945.4" stroke="#000" stroke-width="3.2"/>
<line x1="133.6" y1="881.8" x2="129.4" y2="881.8" stroke="#000" stroke-width="3.2"/>
<line x1="133.6" y1="818.2" x2="129.4" y2="818.2" stroke="#000" stroke-width="3.2"/>
<line x1="133.6" y1="754.7" x2="129.4" y2="754.7" stroke="#000" stroke-width="3.2"/>
<line x1="133.6" y1="691.1" x2="129.4" y2="691.1" stroke="#000" stroke-width="3.2"/>
<text x="120" y="1046.7" font-size="23" text-anchor="end" font-family="Liberation Sans, Arial, sans-serif" font-weight="bold">0.0</text>
<text x="120" y="983.1" font-size="23" text-anchor="end" font-family="Liberation Sans, Arial, sans-serif" font-weight="bold">0.4</text>
<text x="120" y="919.6" font-size="23" text-anchor="end" font-family="Liberation Sans, Arial, sans-serif" font-weight="bold">0.8</text>
<text x="120" y="856" font-size="23" text-anchor="end" font-family="Liberation Sans, Arial, sans-serif" font-weight="bold">1.2</text>
<text x="120" y="792.5" font-size="23" text-anchor="end" font-family="Liberation Sans, Arial, sans-serif" font-weight="bold">1.6</text>
<text x="120" y="728.9" font-size="23" text-anchor="end" font-family="Liberation Sans, Arial, sans-serif" font-weight="bold">2.0</text>
<text x="120" y="665.3" font-size="23" text-anchor="end" font-family="Liberation Sans, Arial, sans-serif" font-weight="bold">2.4</text>
<text transform="translate(63.6,841.5) rotate(-90)" font-size="26.4" text-anchor="middle" font-family="Liberation Sans, Arial, sans-serif" font-weight="bold">Voltage (V)</text>
<text x="380.6" y="1112.5" font-size="26.4" text-anchor="middle" font-family="Liberation Sans, Arial, sans-serif" font-weight="bold">Time (hour)</text>
<text x="14.5" y="603.5" font-size="44" font-family="Liberation Sans, Arial, sans-serif" font-weight="bold">(d)</text>
<line x1="482.4" y1="660.3" x2="526.6" y2="660.3" stroke="#000" stroke-width="3.5"/>
<text x="531" y="666.7" font-size="18.4" font-family="Liberation Sans, Arial, sans-serif" font-weight="bold">CV-ZBB</text>
<rect x="797.2" y="647" width="494.2" height="398.2" fill="none" stroke="#000" stroke-width="3.8"/>
<polygon points="797.5,717.7 799.5,714.7 802.5,717.2 808,716.8 814.5,715.9 817,713.4 818.5,716.9 818.5,820.4 821.3,826.4 821.3,998.3 797.5,998.3" fill="#f00"/>
<rect x="800.2" y="837" width="2.6" height="161.3" fill="#ff4a4a"/>
<rect x="807.3" y="813" width="3.7" height="185.3" fill="#ff4a4a"/>
<rect x="812.2" y="814" width="3.9" height="184.3" fill="#ff4a4a"/>
<rect x="817.3" y="815" width="3.8" height="183.3" fill="#ff4a4a"/>
<path d="M818,773.2 C819,773.1 821.9,772.4 823.7,772.7 C825.5,773 827.3,773.9 828.9,775.1 C830.5,776.2 832.2,777.4 833.5,779.5 C834.8,781.6 835.9,783.2 836.8,787.8 C837.7,792.3 838.3,797.1 838.8,806.9 C839.3,816.6 839.9,840 840.1,846.6" fill="none" stroke="#f00" stroke-width="3" stroke-linejoin="round"/>
<line x1="840.5" y1="822.7" x2="840.5" y2="1045.2" stroke="#e80808" stroke-width="4.4"/>
<polygon points="839.3,720.1 841.3,717.1 844.3,719.6 850.5,719.2 857.6,718.3 860.1,715.8 861.6,719.3 861.6,820.4 864,826.4 864,998.3 839.3,998.3" fill="#f00"/>
<rect x="843.7" y="831" width="2.7" height="167.3" fill="#ff4a4a"/>
<rect x="850.8" y="816" width="3.6" height="182.3" fill="#ff4a4a"/>
<rect x="855.3" y="817" width="3.5" height="181.3" fill="#ff4a4a"/>
<rect x="859.7" y="818.6" width="4" height="179.7" fill="#ff4a4a"/>
<path d="M861.1,773.2 C862.1,773.1 865.1,772.4 867,772.7 C868.9,773 870.8,773.9 872.5,775.1 C874.2,776.2 875.9,777.4 877.3,779.5 C878.7,781.6 879.9,783.2 880.8,787.8 C881.7,792.3 882.3,797.1 882.9,806.9 C883.5,816.6 884,840 884.2,846.6" fill="none" stroke="#f00" stroke-width="3" stroke-linejoin="round"/>
<line x1="884.6" y1="822.7" x2="884.6" y2="1045.2" stroke="#e80808" stroke-width="4.4"/>
<polygon points="883.4,716.1 885.4,713.1 888.4,715.6 894.6,715.2 901.8,714.3 904.3,711.8 905.8,715.3 905.8,820.4 907.8,826.4 907.8,998.3 883.4,998.3" fill="#f00"/>
<rect x="887.8" y="832.8" width="3.6" height="165.5" fill="#ff4a4a"/>
<rect x="895.8" y="817" width="3.6" height="181.3" fill="#ff4a4a"/>
<rect x="900.3" y="819" width="3.5" height="179.3" fill="#ff4a4a"/>
<rect x="904.8" y="824.8" width="2.8" height="173.5" fill="#ff4a4a"/>
<path d="M905.3,773.2 C906.3,773.1 909.6,772.4 911.6,772.7 C913.6,773 915.6,773.9 917.4,775.1 C919.2,776.2 921,777.4 922.5,779.5 C924,781.6 925.2,783.2 926.2,787.8 C927.2,792.3 927.9,797.1 928.5,806.9 C929.1,816.6 929.6,840 929.8,846.6" fill="none" stroke="#f00" stroke-width="3" stroke-linejoin="round"/>
<line x1="930.2" y1="822.7" x2="930.2" y2="1045.2" stroke="#e80808" stroke-width="4.4"/>
<polygon points="929,718.5 931,715.5 934,718 940.5,717.2 948,715.9 950.5,713.4 952,716.9 952,820.4 953.5,826.4 953.5,998.3 929,998.3" fill="#f00"/>
<rect x="931.7" y="848" width="3.5" height="150.3" fill="#ff4a4a"/>
<rect x="936.1" y="820" width="3.5" height="178.3" fill="#ff4a4a"/>
<rect x="940.5" y="835.5" width="3.5" height="162.8" fill="#ff4a4a"/>
<rect x="948.5" y="816" width="3.5" height="182.3" fill="#ff4a4a"/>
<path d="M951.5,773.2 C952.6,773.1 955.9,772.4 958,772.7 C960.1,773 962.2,773.9 964.1,775.1 C966,776.2 967.9,777.4 969.4,779.5 C971,781.6 972.2,783.2 973.3,787.8 C974.3,792.3 975.1,797.1 975.7,806.9 C976.3,816.6 976.8,840 977,846.6" fill="none" stroke="#f00" stroke-width="3" stroke-linejoin="round"/>
<line x1="977.4" y1="822.7" x2="977.4" y2="1045.2" stroke="#e80808" stroke-width="4.4"/>
<polygon points="976.2,714.5 978.2,711.5 981.2,714 987.5,713.2 994.8,711.9 997.3,709.4 998.8,712.9 998.8,820.4 1001,826.4 1001,998.3 976.2,998.3" fill="#f00"/>
<rect x="979.7" y="824" width="3.6" height="174.3" fill="#ff4a4a"/>
<rect x="984.2" y="833.7" width="3.5" height="164.6" fill="#ff4a4a"/>
<rect x="992.2" y="817" width="3.5" height="181.3" fill="#ff4a4a"/>
<rect x="996.6" y="821" width="3.6" height="177.3" fill="#ff4a4a"/>
<path d="M998.3,773.2 C999.5,773.1 1003,772.4 1005.2,772.7 C1007.4,773 1009.6,773.9 1011.6,775.1 C1013.7,776.2 1015.7,777.4 1017.3,779.5 C1018.9,781.6 1020.3,783.2 1021.4,787.8 C1022.5,792.3 1023.4,797.1 1024,806.9 C1024.6,816.6 1025.1,840 1025.3,846.6" fill="none" stroke="#f00" stroke-width="3" stroke-linejoin="round"/>
<line x1="1025.7" y1="822.7" x2="1025.7" y2="1045.2" stroke="#e80808" stroke-width="4.4"/>
<polygon points="1024.5,716.9 1026.5,713.9 1029.5,716.4 1036,716 1043.5,715.1 1046,712.6 1047.5,716.1 1047.5,820.4 1049.5,826.4 1049.5,998.3 1024.5,998.3" fill="#f00"/>
<rect x="1031.6" y="913.6" width="3.5" height="84.7" fill="#ff4a4a"/>
<rect x="1036.5" y="819.5" width="3.6" height="178.8" fill="#ff4a4a"/>
<rect x="1040.8" y="823" width="3.6" height="175.3" fill="#ff4a4a"/>
<rect x="1045.8" y="834.6" width="3.3" height="163.7" fill="#ff4a4a"/>
<path d="M1047,773.2 C1048.1,773.1 1051.6,772.4 1053.8,772.7 C1056,773 1058.1,773.9 1060.1,775.1 C1062.1,776.2 1064,777.4 1065.6,779.5 C1067.2,781.6 1068.6,783.2 1069.7,787.8 C1070.8,792.3 1071.6,797.1 1072.2,806.9 C1072.8,816.6 1073.3,840 1073.5,846.6" fill="none" stroke="#f00" stroke-width="3" stroke-linejoin="round"/>
<line x1="1073.9" y1="822.7" x2="1073.9" y2="1045.2" stroke="#e80808" stroke-width="4.4"/>
<polygon points="1072.7,714.5 1074.7,711.5 1077.7,714 1084.1,714 1091.5,713.5 1094,711 1095.5,714.5 1095.5,820.4 1097.5,826.4 1097.5,998.3 1072.7,998.3" fill="#f00"/>
<rect x="1080.7" y="821" width="3.2" height="177.3" fill="#ff4a4a"/>
<rect x="1085.1" y="821" width="3.2" height="177.3" fill="#ff4a4a"/>
<rect x="1089.6" y="825.7" width="3.1" height="172.6" fill="#ff4a4a"/>
<rect x="1094" y="838" width="3.1" height="160.3" fill="#ff4a4a"/>
<path d="M1095,773.2 C1096.1,773.1 1099.6,772.4 1101.7,772.7 C1103.9,773 1106,773.9 1108,775.1 C1109.9,776.2 1111.9,777.4 1113.4,779.5 C1115,781.6 1116.3,783.2 1117.4,787.8 C1118.5,792.3 1119.3,797.1 1119.9,806.9 C1120.5,816.6 1121,840 1121.2,846.6" fill="none" stroke="#f00" stroke-width="3" stroke-linejoin="round"/>
<line x1="1121.6" y1="822.7" x2="1121.6" y2="1045.2" stroke="#e80808" stroke-width="4.4"/>
<polygon points="1120.4,713.7 1122.4,710.7 1125.4,713.2 1131.5,712.4 1138.5,711.1 1141,708.6 1142.5,712.1 1142.5,820.4 1144.2,826.4 1144.2,998.3 1120.4,998.3" fill="#f00"/>
<rect x="1126.6" y="824.8" width="3.6" height="173.5" fill="#ff4a4a"/>
<rect x="1131.4" y="818" width="3.4" height="180.3" fill="#ff4a4a"/>
<rect x="1135.9" y="820" width="3.5" height="178.3" fill="#ff4a4a"/>
<rect x="1140.4" y="830" width="3.4" height="168.3" fill="#ff4a4a"/>
<path d="M1142,773.2 C1143.1,773.1 1146.5,772.4 1148.7,772.7 C1150.9,773 1153,773.9 1154.9,775.1 C1156.8,776.2 1158.8,777.4 1160.4,779.5 C1161.9,781.6 1163.2,783.2 1164.3,787.8 C1165.4,792.3 1166.2,797.1 1166.8,806.9 C1167.4,816.6 1167.9,840 1168.1,846.6" fill="none" stroke="#f00" stroke-width="3" stroke-linejoin="round"/>
<line x1="1168.5" y1="822.7" x2="1168.5" y2="1045.2" stroke="#e80808" stroke-width="4.4"/>
<polygon points="1167.3,716.9 1169.3,713.9 1172.3,716.4 1178.4,716 1185.5,715.1 1188,712.6 1189.5,716.1 1189.5,820.4 1191,826.4 1191,998.3 1167.3,998.3" fill="#f00"/>
<rect x="1170.8" y="855" width="3.3" height="143.3" fill="#ff4a4a"/>
<rect x="1175.3" y="826" width="3.4" height="172.3" fill="#ff4a4a"/>
<rect x="1179.9" y="830" width="3.4" height="168.3" fill="#ff4a4a"/>
<rect x="1184.5" y="822" width="3.4" height="176.3" fill="#ff4a4a"/>
<rect x="1188.7" y="828" width="2" height="170.3" fill="#ff4a4a"/>
<path d="M1189,773.2 C1190.1,773.1 1193.5,772.4 1195.7,772.7 C1197.9,773 1200,773.9 1201.9,775.1 C1203.8,776.2 1205.8,777.4 1207.4,779.5 C1208.9,781.6 1210.2,783.2 1211.3,787.8 C1212.4,792.3 1213.2,797.1 1213.8,806.9 C1214.4,816.6 1214.9,840 1215.1,846.6" fill="none" stroke="#f00" stroke-width="3" stroke-linejoin="round"/>
<line x1="1215.5" y1="822.7" x2="1215.5" y2="1045.2" stroke="#e80808" stroke-width="4.4"/>
<polygon points="1214.3,718.5 1216.3,715.5 1219.3,718 1225.3,717.6 1232.3,716.7 1234.8,714.2 1236.3,717.7 1236.3,820.4 1238,826.4 1238,998.3 1214.3,998.3" fill="#f00"/>
<rect x="1218.3" y="872" width="3.2" height="126.3" fill="#ff4a4a"/>
<rect x="1222.7" y="838" width="3.4" height="160.3" fill="#ff4a4a"/>
<rect x="1227.3" y="822" width="3.4" height="176.3" fill="#ff4a4a"/>
<rect x="1231.9" y="826" width="3.4" height="172.3" fill="#ff4a4a"/>
<path d="M1235.8,773.2 C1236.9,773.1 1240.2,772.4 1242.3,772.7 C1244.4,773 1246.5,773.9 1248.3,775.1 C1250.2,776.2 1252.1,777.4 1253.7,779.5 C1255.2,781.6 1256.5,783.2 1257.5,787.8 C1258.5,792.3 1259.3,797.1 1259.9,806.9 C1260.5,816.6 1261,840 1261.2,846.6" fill="none" stroke="#f00" stroke-width="3" stroke-linejoin="round"/>
<line x1="1261.6" y1="822.7" x2="1261.6" y2="1045.2" stroke="#e80808" stroke-width="4.4"/>
<path d="M1261.9,838.6 C1262.1,830.7 1262.5,799.7 1262.9,791 C1263.3,782.2 1263.9,787 1264.4,786.2 C1264.9,785.4 1265.5,784.1 1266,786.2 C1266.5,788.3 1267.2,796.8 1267.5,798.9" fill="none" stroke="#f00" stroke-width="3" stroke-linejoin="round"/>
<line x1="1268" y1="791" x2="1268" y2="1045.2" stroke="#e80808" stroke-width="4"/>
<polygon points="1267.3,719.3 1269.3,716.3 1272.3,718.8 1278.7,718.8 1286,718.3 1288.5,715.8 1290,719.3 1290,820.4 1290,826.4 1290,998.3 1267.3,998.3" fill="#f00"/>
<rect x="1270.8" y="880" width="3.5" height="118.3" fill="#ff4a4a"/>
<rect x="1275.5" y="832" width="3.4" height="166.3" fill="#ff4a4a"/>
<rect x="1280.3" y="850" width="3.4" height="148.3" fill="#ff4a4a"/>
<rect x="1284.9" y="822" width="3.4" height="176.3" fill="#ff4a4a"/>
<line x1="797.2" y1="1045.2" x2="797.2" y2="1052.7" stroke="#000" stroke-width="3.2"/>
<line x1="846.7" y1="1045.2" x2="846.7" y2="1052.7" stroke="#000" stroke-width="3.2"/>
<line x1="896.1" y1="1045.2" x2="896.1" y2="1052.7" stroke="#000" stroke-width="3.2"/>
<line x1="945.6" y1="1045.2" x2="945.6" y2="1052.7" stroke="#000" stroke-width="3.2"/>
<line x1="995" y1="1045.2" x2="995" y2="1052.7" stroke="#000" stroke-width="3.2"/>
<line x1="1044.5" y1="1045.2" x2="1044.5" y2="1052.7" stroke="#000" stroke-width="3.2"/>
<line x1="1093.9" y1="1045.2" x2="1093.9" y2="1052.7" stroke="#000" stroke-width="3.2"/>
<line x1="1143.4" y1="1045.2" x2="1143.4" y2="1052.7" stroke="#000" stroke-width="3.2"/>
<line x1="1192.8" y1="1045.2" x2="1192.8" y2="1052.7" stroke="#000" stroke-width="3.2"/>
<line x1="1242.2" y1="1045.2" x2="1242.2" y2="1052.7" stroke="#000" stroke-width="3.2"/>
<line x1="1291.7" y1="1045.2" x2="1291.7" y2="1052.7" stroke="#000" stroke-width="3.2"/>
<line x1="821.9" y1="1045.2" x2="821.9" y2="1049.4" stroke="#000" stroke-width="3.2"/>
<line x1="871.4" y1="1045.2" x2="871.4" y2="1049.4" stroke="#000" stroke-width="3.2"/>
<line x1="920.8" y1="1045.2" x2="920.8" y2="1049.4" stroke="#000" stroke-width="3.2"/>
<line x1="970.3" y1="1045.2" x2="970.3" y2="1049.4" stroke="#000" stroke-width="3.2"/>
<line x1="1019.7" y1="1045.2" x2="1019.7" y2="1049.4" stroke="#000" stroke-width="3.2"/>
<line x1="1069.2" y1="1045.2" x2="1069.2" y2="1049.4" stroke="#000" stroke-width="3.2"/>
<line x1="1118.6" y1="1045.2" x2="1118.6" y2="1049.4" stroke="#000" stroke-width="3.2"/>
<line x1="1168.1" y1="1045.2" x2="1168.1" y2="1049.4" stroke="#000" stroke-width="3.2"/>
<line x1="1217.5" y1="1045.2" x2="1217.5" y2="1049.4" stroke="#000" stroke-width="3.2"/>
<line x1="1267" y1="1045.2" x2="1267" y2="1049.4" stroke="#000" stroke-width="3.2"/>
<text x="797.2" y="1074.4" font-size="23" text-anchor="middle" font-family="Liberation Sans, Arial, sans-serif" font-weight="bold">0</text>
<text x="846.7" y="1074.4" font-size="23" text-anchor="middle" font-family="Liberation Sans, Arial, sans-serif" font-weight="bold">10</text>
<text x="896.1" y="1074.4" font-size="23" text-anchor="middle" font-family="Liberation Sans, Arial, sans-serif" font-weight="bold">20</text>
<text x="945.6" y="1074.4" font-size="23" text-anchor="middle" font-family="Liberation Sans, Arial, sans-serif" font-weight="bold">30</text>
<text x="995" y="1074.4" font-size="23" text-anchor="middle" font-family="Liberation Sans, Arial, sans-serif" font-weight="bold">40</text>
<text x="1044.5" y="1074.4" font-size="23" text-anchor="middle" font-family="Liberation Sans, Arial, sans-serif" font-weight="bold">50</text>
<text x="1093.9" y="1074.4" font-size="23" text-anchor="middle" font-family="Liberation Sans, Arial, sans-serif" font-weight="bold">60</text>
<text x="1143.4" y="1074.4" font-size="23" text-anchor="middle" font-family="Liberation Sans, Arial, sans-serif" font-weight="bold">70</text>
<text x="1192.8" y="1074.4" font-size="23" text-anchor="middle" font-family="Liberation Sans, Arial, sans-serif" font-weight="bold">80</text>
<text x="1242.2" y="1074.4" font-size="23" text-anchor="middle" font-family="Liberation Sans, Arial, sans-serif" font-weight="bold">90</text>
<text x="1291.7" y="1074.4" font-size="23" text-anchor="middle" font-family="Liberation Sans, Arial, sans-serif" font-weight="bold">100</text>
<line x1="797.2" y1="1045.2" x2="789.4" y2="1045.2" stroke="#000" stroke-width="3.2"/>
<line x1="797.2" y1="981.6" x2="789.4" y2="981.6" stroke="#000" stroke-width="3.2"/>
<line x1="797.2" y1="918.1" x2="789.4" y2="918.1" stroke="#000" stroke-width="3.2"/>
<line x1="797.2" y1="854.5" x2="789.4" y2="854.5" stroke="#000" stroke-width="3.2"/>
<line x1="797.2" y1="791" x2="789.4" y2="791" stroke="#000" stroke-width="3.2"/>
<line x1="797.2" y1="727.4" x2="789.4" y2="727.4" stroke="#000" stroke-width="3.2"/>
<line x1="797.2" y1="663.8" x2="789.4" y2="663.8" stroke="#000" stroke-width="3.2"/>
<line x1="797.2" y1="1013.4" x2="793" y2="1013.4" stroke="#000" stroke-width="3.2"/>
<line x1="797.2" y1="949.9" x2="793" y2="949.9" stroke="#000" stroke-width="3.2"/>
<line x1="797.2" y1="886.3" x2="793" y2="886.3" stroke="#000" stroke-width="3.2"/>
<line x1="797.2" y1="822.7" x2="793" y2="822.7" stroke="#000" stroke-width="3.2"/>
<line x1="797.2" y1="759.2" x2="793" y2="759.2" stroke="#000" stroke-width="3.2"/>
<line x1="797.2" y1="695.6" x2="793" y2="695.6" stroke="#000" stroke-width="3.2"/>
<text x="783.6" y="1051.2" font-size="23" text-anchor="end" font-family="Liberation Sans, Arial, sans-serif" font-weight="bold">0.0</text>
<text x="783.6" y="987.6" font-size="23" text-anchor="end" font-family="Liberation Sans, Arial, sans-serif" font-weight="bold">0.4</text>
<text x="783.6" y="924.1" font-size="23" text-anchor="end" font-family="Liberation Sans, Arial, sans-serif" font-weight="bold">0.8</text>
<text x="783.6" y="860.5" font-size="23" text-anchor="end" font-family="Liberation Sans, Arial, sans-serif" font-weight="bold">1.2</text>
<text x="783.6" y="797" font-size="23" text-anchor="end" font-family="Liberation Sans, Arial, sans-serif" font-weight="bold">1.6</text>
<text x="783.6" y="733.4" font-size="23" text-anchor="end" font-family="Liberation Sans, Arial, sans-serif" font-weight="bold">2.0</text>
<text x="783.6" y="669.8" font-size="23" text-anchor="end" font-family="Liberation Sans, Arial, sans-serif" font-weight="bold">2.4</text>
<text transform="translate(726.2,845.5) rotate(-90)" font-size="26.4" text-anchor="middle" font-family="Liberation Sans, Arial, sans-serif" font-weight="bold">Voltage (V)</text>
<text x="1044.3" y="1116.5" font-size="26.4" text-anchor="middle" font-family="Liberation Sans, Arial, sans-serif" font-weight="bold">Time (hour)</text>
<text x="684.7" y="604.5" font-size="44" font-family="Liberation Sans, Arial, sans-serif" font-weight="bold">(e)</text>
<line x1="1138" y1="669.8" x2="1181.6" y2="669.8" stroke="#f00" stroke-width="3.5"/>
<text x="1185.7" y="676.2" font-size="18.4" font-family="Liberation Sans, Arial, sans-serif" font-weight="bold">3D-Ti-ZBB</text>
<rect x="1495.2" y="645.6" width="495.1" height="398.4" fill="none" stroke="#000" stroke-width="3.8"/>
<line x1="1525.4" y1="868.8" x2="1537.3" y2="857.1" stroke="#000" stroke-width="3.8"/>
<line x1="1549.7" y1="844.9" x2="1561.6" y2="833.2" stroke="#000" stroke-width="3.8"/>
<line x1="1574.5" y1="821.6" x2="1585.4" y2="812.4" stroke="#000" stroke-width="3.8"/>
<line x1="1599.1" y1="811.9" x2="1609.4" y2="819.4" stroke="#000" stroke-width="3.8"/>
<line x1="1619.8" y1="816.5" x2="1637.3" y2="774.5" stroke="#000" stroke-width="3.8"/>
<line x1="1648.7" y1="769.9" x2="1657" y2="773.3" stroke="#000" stroke-width="3.8"/>
<line x1="1668.9" y1="768.9" x2="1685.4" y2="735.8" stroke="#000" stroke-width="3.8"/>
<line x1="1698" y1="728.3" x2="1704.9" y2="728.6" stroke="#000" stroke-width="3.8"/>
<line x1="1722.1" y1="730.9" x2="1729.4" y2="732.7" stroke="#000" stroke-width="3.8"/>
<line x1="1746.6" y1="734.3" x2="1753.5" y2="734.1" stroke="#000" stroke-width="3.8"/>
<line x1="1770.6" y1="731.5" x2="1778.1" y2="729.4" stroke="#000" stroke-width="3.8"/>
<line x1="1789.7" y1="719.1" x2="1807.6" y2="674.2" stroke="#000" stroke-width="3.8"/>
<line x1="1816.7" y1="672.5" x2="1829.2" y2="686.2" stroke="#000" stroke-width="3.8"/>
<line x1="1841" y1="686.2" x2="1853.5" y2="672.5" stroke="#000" stroke-width="3.8"/>
<line x1="1868" y1="667.3" x2="1875.1" y2="668.4" stroke="#000" stroke-width="3.8"/>
<line x1="1890.9" y1="674.5" x2="1900.8" y2="681.1" stroke="#000" stroke-width="3.8"/>
<line x1="1914.4" y1="680.1" x2="1925.9" y2="669.3" stroke="#000" stroke-width="3.8"/>
<line x1="1935.7" y1="671.4" x2="1953.2" y2="713.4" stroke="#000" stroke-width="3.8"/>
<line x1="1960.7" y1="713.7" x2="1976.8" y2="683.5" stroke="#000" stroke-width="3.8"/>
<circle cx="1519.2" cy="874.9" r="7" fill="#000"/>
<circle cx="1543.5" cy="851" r="7" fill="#000"/>
<circle cx="1567.8" cy="827.1" r="7" fill="#000"/>
<circle cx="1592.1" cy="806.8" r="7" fill="#000"/>
<circle cx="1616.4" cy="824.5" r="7" fill="#000"/>
<circle cx="1640.7" cy="766.5" r="7" fill="#000"/>
<circle cx="1665" cy="776.7" r="7" fill="#000"/>
<circle cx="1689.3" cy="728" r="7" fill="#000"/>
<circle cx="1713.6" cy="728.9" r="7" fill="#000"/>
<circle cx="1737.9" cy="734.7" r="7" fill="#000"/>
<circle cx="1762.2" cy="733.8" r="7" fill="#000"/>
<circle cx="1786.5" cy="727.1" r="7" fill="#000"/>
<circle cx="1810.8" cy="666.1" r="7" fill="#000"/>
<circle cx="1835.1" cy="692.6" r="7" fill="#000"/>
<circle cx="1859.4" cy="666.1" r="7" fill="#000"/>
<circle cx="1883.7" cy="669.6" r="7" fill="#000"/>
<circle cx="1908" cy="686" r="7" fill="#000"/>
<circle cx="1932.3" cy="663.4" r="7" fill="#000"/>
<circle cx="1956.6" cy="721.4" r="7" fill="#000"/>
<circle cx="1980.9" cy="675.8" r="7" fill="#000"/>
<line x1="1526.2" y1="958.8" x2="1536.5" y2="951.3" stroke="#f00" stroke-width="3.8"/>
<line x1="1549.9" y1="940.3" x2="1561.4" y2="929.5" stroke="#f00" stroke-width="3.8"/>
<line x1="1575.3" y1="919.1" x2="1584.6" y2="913.5" stroke="#f00" stroke-width="3.8"/>
<line x1="1600.3" y1="906" x2="1608.2" y2="903.1" stroke="#f00" stroke-width="3.8"/>
<line x1="1624" y1="904.3" x2="1633.1" y2="909.3" stroke="#f00" stroke-width="3.8"/>
<line x1="1649.4" y1="914.2" x2="1656.3" y2="914.9" stroke="#f00" stroke-width="3.8"/>
<line x1="1672.6" y1="919.9" x2="1681.7" y2="925.1" stroke="#f00" stroke-width="3.8"/>
<line x1="1697.8" y1="927.4" x2="1705.1" y2="925.6" stroke="#f00" stroke-width="3.8"/>
<line x1="1720.5" y1="918.3" x2="1731" y2="910.3" stroke="#f00" stroke-width="3.8"/>
<line x1="1746.6" y1="904.7" x2="1753.5" y2="904.5" stroke="#f00" stroke-width="3.8"/>
<line x1="1770.3" y1="907.4" x2="1778.4" y2="910.6" stroke="#f00" stroke-width="3.8"/>
<line x1="1795" y1="912.2" x2="1802.3" y2="910.7" stroke="#f00" stroke-width="3.8"/>
<line x1="1819.1" y1="911.6" x2="1826.8" y2="914" stroke="#f00" stroke-width="3.8"/>
<line x1="1843.7" y1="915.4" x2="1850.8" y2="914.5" stroke="#f00" stroke-width="3.8"/>
<line x1="1868.1" y1="913.3" x2="1875" y2="913.1" stroke="#f00" stroke-width="3.8"/>
<line x1="1891.9" y1="915.8" x2="1899.8" y2="918.6" stroke="#f00" stroke-width="3.8"/>
<line x1="1916.5" y1="919.4" x2="1923.8" y2="917.6" stroke="#f00" stroke-width="3.8"/>
<line x1="1940.6" y1="912.9" x2="1948.3" y2="910.4" stroke="#f00" stroke-width="3.8"/>
<line x1="1965.2" y1="906.7" x2="1972.3" y2="906" stroke="#f00" stroke-width="3.8"/>
<circle cx="1519.2" cy="963.9" r="7" fill="#f00"/>
<circle cx="1543.5" cy="946.2" r="7" fill="#f00"/>
<circle cx="1567.8" cy="923.6" r="7" fill="#f00"/>
<circle cx="1592.1" cy="909" r="7" fill="#f00"/>
<circle cx="1616.4" cy="900.2" r="7" fill="#f00"/>
<circle cx="1640.7" cy="913.4" r="7" fill="#f00"/>
<circle cx="1665" cy="915.6" r="7" fill="#f00"/>
<circle cx="1689.3" cy="929.4" r="7" fill="#f00"/>
<circle cx="1713.6" cy="923.6" r="7" fill="#f00"/>
<circle cx="1737.9" cy="905" r="7" fill="#f00"/>
<circle cx="1762.2" cy="904.1" r="7" fill="#f00"/>
<circle cx="1786.5" cy="913.9" r="7" fill="#f00"/>
<circle cx="1810.8" cy="909" r="7" fill="#f00"/>
<circle cx="1835.1" cy="916.5" r="7" fill="#f00"/>
<circle cx="1859.4" cy="913.4" r="7" fill="#f00"/>
<circle cx="1883.7" cy="913" r="7" fill="#f00"/>
<circle cx="1908" cy="921.4" r="7" fill="#f00"/>
<circle cx="1932.3" cy="915.6" r="7" fill="#f00"/>
<circle cx="1956.6" cy="907.7" r="7" fill="#f00"/>
<circle cx="1980.9" cy="905" r="7" fill="#f00"/>
<line x1="1494.9" y1="1044" x2="1494.9" y2="1051.5" stroke="#000" stroke-width="3.2"/>
<line x1="1592.1" y1="1044" x2="1592.1" y2="1051.5" stroke="#000" stroke-width="3.2"/>
<line x1="1689.3" y1="1044" x2="1689.3" y2="1051.5" stroke="#000" stroke-width="3.2"/>
<line x1="1786.5" y1="1044" x2="1786.5" y2="1051.5" stroke="#000" stroke-width="3.2"/>
<line x1="1883.7" y1="1044" x2="1883.7" y2="1051.5" stroke="#000" stroke-width="3.2"/>
<line x1="1980.9" y1="1044" x2="1980.9" y2="1051.5" stroke="#000" stroke-width="3.2"/>
<line x1="1543.5" y1="1044" x2="1543.5" y2="1048.2" stroke="#000" stroke-width="3.2"/>
<line x1="1640.7" y1="1044" x2="1640.7" y2="1048.2" stroke="#000" stroke-width="3.2"/>
<line x1="1737.9" y1="1044" x2="1737.9" y2="1048.2" stroke="#000" stroke-width="3.2"/>
<line x1="1835.1" y1="1044" x2="1835.1" y2="1048.2" stroke="#000" stroke-width="3.2"/>
<line x1="1932.3" y1="1044" x2="1932.3" y2="1048.2" stroke="#000" stroke-width="3.2"/>
<text x="1494.9" y="1073.2" font-size="23" text-anchor="middle" font-family="Liberation Sans, Arial, sans-serif" font-weight="bold">0</text>
<text x="1592.1" y="1073.2" font-size="23" text-anchor="middle" font-family="Liberation Sans, Arial, sans-serif" font-weight="bold">20</text>
<text x="1689.3" y="1073.2" font-size="23" text-anchor="middle" font-family="Liberation Sans, Arial, sans-serif" font-weight="bold">40</text>
<text x="1786.5" y="1073.2" font-size="23" text-anchor="middle" font-family="Liberation Sans, Arial, sans-serif" font-weight="bold">60</text>
<text x="1883.7" y="1073.2" font-size="23" text-anchor="middle" font-family="Liberation Sans, Arial, sans-serif" font-weight="bold">80</text>
<text x="1980.9" y="1073.2" font-size="23" text-anchor="middle" font-family="Liberation Sans, Arial, sans-serif" font-weight="bold">100</text>
<line x1="1495.2" y1="1021.4" x2="1487.4" y2="1021.4" stroke="#000" stroke-width="3.2"/>
<line x1="1495.2" y1="977.1" x2="1487.4" y2="977.1" stroke="#000" stroke-width="3.2"/>
<line x1="1495.2" y1="932.9" x2="1487.4" y2="932.9" stroke="#000" stroke-width="3.2"/>
<line x1="1495.2" y1="888.6" x2="1487.4" y2="888.6" stroke="#000" stroke-width="3.2"/>
<line x1="1495.2" y1="844.4" x2="1487.4" y2="844.4" stroke="#000" stroke-width="3.2"/>
<line x1="1495.2" y1="800.1" x2="1487.4" y2="800.1" stroke="#000" stroke-width="3.2"/>
<line x1="1495.2" y1="755.9" x2="1487.4" y2="755.9" stroke="#000" stroke-width="3.2"/>
<line x1="1495.2" y1="711.6" x2="1487.4" y2="711.6" stroke="#000" stroke-width="3.2"/>
<line x1="1495.2" y1="667.4" x2="1487.4" y2="667.4" stroke="#000" stroke-width="3.2"/>
<line x1="1495.2" y1="1043.5" x2="1491" y2="1043.5" stroke="#000" stroke-width="3.2"/>
<line x1="1495.2" y1="999.3" x2="1491" y2="999.3" stroke="#000" stroke-width="3.2"/>
<line x1="1495.2" y1="955" x2="1491" y2="955" stroke="#000" stroke-width="3.2"/>
<line x1="1495.2" y1="910.8" x2="1491" y2="910.8" stroke="#000" stroke-width="3.2"/>
<line x1="1495.2" y1="866.5" x2="1491" y2="866.5" stroke="#000" stroke-width="3.2"/>
<line x1="1495.2" y1="822.3" x2="1491" y2="822.3" stroke="#000" stroke-width="3.2"/>
<line x1="1495.2" y1="778" x2="1491" y2="778" stroke="#000" stroke-width="3.2"/>
<line x1="1495.2" y1="733.8" x2="1491" y2="733.8" stroke="#000" stroke-width="3.2"/>
<line x1="1495.2" y1="689.5" x2="1491" y2="689.5" stroke="#000" stroke-width="3.2"/>
<line x1="1495.2" y1="645.3" x2="1491" y2="645.3" stroke="#000" stroke-width="3.2"/>
<text x="1480.7" y="1027.4" font-size="23" text-anchor="end" font-family="Liberation Sans, Arial, sans-serif" font-weight="bold">400</text>
<text x="1480.7" y="983.1" font-size="23" text-anchor="end" font-family="Liberation Sans, Arial, sans-serif" font-weight="bold">500</text>
<text x="1480.7" y="938.9" font-size="23" text-anchor="end" font-family="Liberation Sans, Arial, sans-serif" font-weight="bold">600</text>
<text x="1480.7" y="894.6" font-size="23" text-anchor="end" font-family="Liberation Sans, Arial, sans-serif" font-weight="bold">700</text>
<text x="1480.7" y="850.4" font-size="23" text-anchor="end" font-family="Liberation Sans, Arial, sans-serif" font-weight="bold">800</text>
<text x="1480.7" y="806.1" font-size="23" text-anchor="end" font-family="Liberation Sans, Arial, sans-serif" font-weight="bold">900</text>
<text x="1480.7" y="761.9" font-size="23" text-anchor="end" font-family="Liberation Sans, Arial, sans-serif" font-weight="bold">1000</text>
<text x="1480.7" y="717.6" font-size="23" text-anchor="end" font-family="Liberation Sans, Arial, sans-serif" font-weight="bold">1100</text>
<text x="1480.7" y="673.4" font-size="23" text-anchor="end" font-family="Liberation Sans, Arial, sans-serif" font-weight="bold">1200</text>
<text transform="translate(1407,853) rotate(-90)" font-size="25.2" text-anchor="middle" font-family="Liberation Sans, Arial, sans-serif" font-weight="bold">Stripping capacity (mAh)</text>
<text x="1742.5" y="1114" font-size="26.4" text-anchor="middle" font-family="Liberation Sans, Arial, sans-serif" font-weight="bold">Cycle number</text>
<text x="1356" y="603.5" font-size="44" font-family="Liberation Sans, Arial, sans-serif" font-weight="bold">(f)</text>
<line x1="1505" y1="668" x2="1557.7" y2="668" stroke="#000" stroke-width="3.8"/>
<circle cx="1531.6" cy="668" r="7" fill="#000"/>
<text x="1562.7" y="674.4" font-size="18.4" font-family="Liberation Sans, Arial, sans-serif" font-weight="bold">CV-ZBB</text>
<line x1="1505" y1="696.2" x2="1557.7" y2="696.2" stroke="#f00" stroke-width="3.8"/>
<circle cx="1531.6" cy="696.2" r="7" fill="#f00"/>
<text x="1562.7" y="702.6" font-size="18.4" font-family="Liberation Sans, Arial, sans-serif" font-weight="bold">3D-Ti-ZBB</text>
</svg>
</body></html>
